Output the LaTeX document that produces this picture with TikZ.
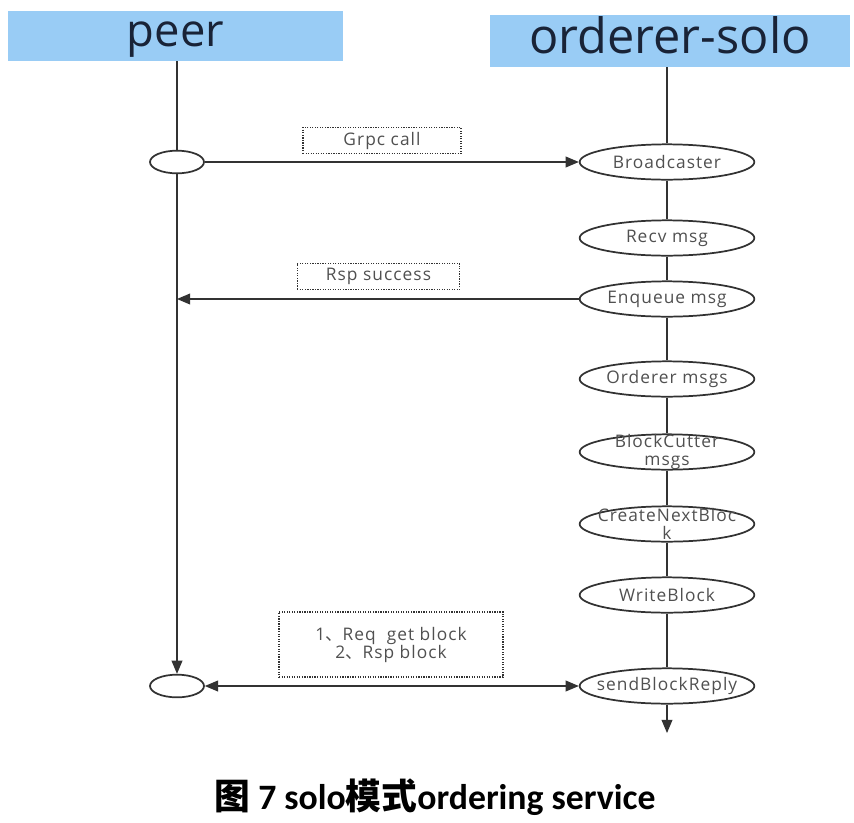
\documentclass[tikz,border=0pt]{standalone}
\usepackage{fontspec}
\setmainfont{Open Sans}
\newfontfamily\lbl[LetterSpace=6]{Open Sans}
\newfontfamily\cjk{Noto Sans CJK SC}
\newfontfamily\capfont{Carlito}
\usetikzlibrary{arrows,shapes.geometric}

\definecolor{headblue}{RGB}{153,204,245}
\definecolor{headtext}{RGB}{25,35,55}
\definecolor{linegray}{RGB}{50,50,50}
\definecolor{textgray}{RGB}{80,80,80}

\begin{document}
\begin{tikzpicture}[x=0.75pt,y=-0.75pt,>=triangle 45,
  head/.style={fill=headblue, text=headtext, inner sep=0pt, text depth=0pt},
  state/.style={draw=linegray, line width=1.3pt, ellipse, inner sep=0pt, minimum width=131pt, minimum height=26.5pt},
  lab/.style={inner sep=0pt, align=center, text=textgray, font=\lbl\fontsize{13}{13.5}\selectfont},
  dot/.style={draw=linegray, line width=1.3pt, ellipse, minimum width=40.5pt, minimum height=17pt, inner sep=0pt},
  note/.style={draw=linegray, densely dotted, line width=0.9pt, align=center, text=textgray, font=\lbl\fontsize{13}{13.5}\selectfont},
  flow/.style={draw=linegray, line width=1.3pt}]

\useasboundingbox (0,0) rectangle (854,822);

\node [head, minimum width=251pt, minimum height=37.5pt, text height=16pt, font=\fontsize{34}{34}\selectfont] (peer) at (175.5,36) {peer};
\node [head, minimum width=270pt, minimum height=39pt, text height=18pt, font=\fontsize{36.5}{36.5}\selectfont] (solo) at (670,41) {orderer-solo};

\foreach \n/\y/\t in {bc/162/Broadcaster, rv/238/Recv msg, eq/299/Enqueue msg, om/379/Orderer msgs,
                      cut/452/{BlockCutter\\msgs}, nb/524/{CreateNextBloc\\k}, wb/595/WriteBlock, sr/686/sendBlockReply}
    \node [state, label={[lab]center:{\t}}] (\n) at (667,\y) {};

\node [dot] (p1) at (177,162) {};
\node [dot] (p2) at (177,686) {};

\coordinate (back) at (177,299);
\coordinate (tail) at (667,733);

% orderer lifeline
\draw [flow] (solo.south -| bc) -- (bc);
\foreach \a/\b in {bc/rv, rv/eq, eq/om, om/cut, cut/nb, nb/wb, wb/sr}
    \draw [flow] (\a) -- (\b);
\draw [flow, ->] (sr) -- (tail);

% peer lifeline
\draw [flow] (peer.south -| p1) -- (p1);
\draw [flow, ->] (p1) -- (p2);

% messages
\draw [flow, ->] (p1) -- (bc);
\draw [flow, ->] (eq) -- (back);
\draw [flow, <->] (p2) -- (sr);

\node [note, minimum width=118.5pt, minimum height=18.75pt] (grpc) at (382,140.5) {Grpc call};
\node [note, minimum width=122pt, minimum height=18.75pt] (rsp) at (378.5,276.5) {Rsp success};
\node [note, minimum width=168pt, minimum height=48.75pt] (req) at (391,644.5) {1{\cjk 、}Req\ \ get block\\2{\cjk 、}Rsp block};

\node [font=\capfont\bfseries\fontsize{26.8}{26.8}\selectfont] (cap) at (435,797) {{\cjk\bfseries 图} 7 solo{\cjk\bfseries 模式}ordering service};

\end{tikzpicture}
\end{document}
